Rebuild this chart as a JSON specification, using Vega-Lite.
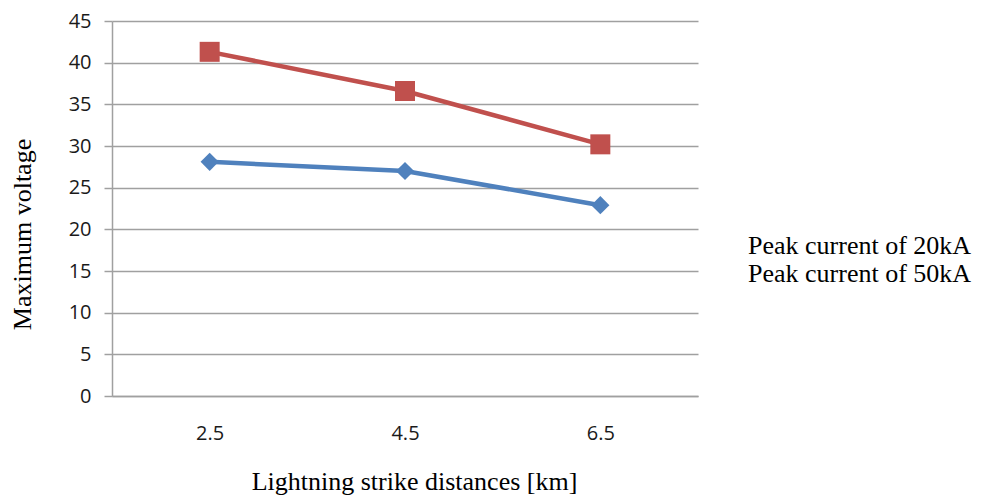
{
  "$schema": "https://vega.github.io/schema/vega-lite/v6.json",
  "width": 586,
  "height": 375,
  "autosize": {"type": "none"},
  "padding": {"left": 112, "top": 21, "right": 283, "bottom": 104},
  "background": "white",
  "config": {"view": {"stroke": null}},
  "data": {
    "values": [
      {"distance": "2.5", "series": "Peak current of 20kA", "voltage": 28.1},
      {"distance": "4.5", "series": "Peak current of 20kA", "voltage": 27.0},
      {"distance": "6.5", "series": "Peak current of 20kA", "voltage": 22.9},
      {"distance": "2.5", "series": "Peak current of 50kA", "voltage": 41.3},
      {"distance": "4.5", "series": "Peak current of 50kA", "voltage": 36.6},
      {"distance": "6.5", "series": "Peak current of 50kA", "voltage": 30.2}
    ]
  },
  "encoding": {
    "x": {
      "field": "distance", "type": "ordinal", "sort": null,
      "scale": {"type": "point", "padding": 0.5},
      "axis": {
        "title": "Lightning strike distances [km]",
        "labelAngle": 0, "ticks": false, "tickSize": 0,
        "domainColor": "#a0a0a0", "domainWidth": 1.5,
        "labelFont": "Open Sans", "labelFontSize": 20, "labelColor": "#1a1a1a",
        "labelPadding": 27,
        "titleFont": "Liberation Serif", "titleFontSize": 26, "titleFontWeight": "normal", "titleColor": "#000000",
        "titleX": 302, "titleY": 93, "titleBaseline": "alphabetic"
      }
    },
    "y": {
      "field": "voltage", "type": "quantitative",
      "scale": {"domain": [0, 45], "nice": false},
      "axis": {
        "values": [0, 5, 10, 15, 20, 25, 30, 35, 40, 45],
        "title": "Maximum voltage",
        "tickSize": 8, "tickColor": "#a0a0a0", "tickWidth": 1.5,
        "domainColor": "#a0a0a0", "domainWidth": 1.5,
        "gridColor": "#a0a0a0", "gridWidth": 1.5,
        "labelFont": "Open Sans", "labelFontSize": 20, "labelColor": "#1a1a1a",
        "labelPadding": 13,
        "titleFont": "Liberation Serif", "titleFontSize": 26, "titleFontWeight": "normal", "titleColor": "#000000",
        "titleX": -82, "titleY": 213, "titleBaseline": "alphabetic", "titleAngle": -90, "titleAlign": "center"
      }
    },
    "color": {
      "field": "series", "type": "nominal",
      "scale": {"domain": ["Peak current of 20kA", "Peak current of 50kA"], "range": ["#4f81bd", "#c0504d"]},
      "legend": {
        "title": null, "orient": "none", "legendX": 610, "legendY": 212,
        "symbolSize": 0, "symbolOpacity": 0, "symbolStrokeWidth": 0, "labelOffset": 0,
        "labelFont": "Liberation Serif", "labelFontSize": 26, "labelColor": "#000000",
        "rowPadding": 2, "labelLimit": 400
      }
    }
  },
  "layer": [
    {"mark": {"type": "line", "strokeWidth": 4.5}},
    {
      "mark": {"type": "point", "filled": true, "opacity": 1},
      "encoding": {
        "shape": {"field": "series", "type": "nominal", "scale": {"domain": ["Peak current of 20kA", "Peak current of 50kA"], "range": ["diamond", "square"]}, "legend": null},
        "size": {"field": "series", "type": "nominal", "scale": {"domain": ["Peak current of 20kA", "Peak current of 50kA"], "range": [330, 400]}, "legend": null}
      }
    }
  ]
}
